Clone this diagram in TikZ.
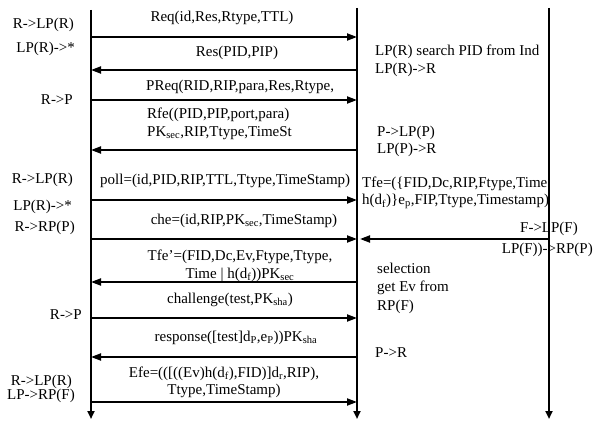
\documentclass[tikz,border=0pt]{standalone}
\usepackage{fontspec}
\setmainfont{Liberation Serif}
\usetikzlibrary{arrows.meta}
\begin{document}
\begin{tikzpicture}[x=1pt,y=-1pt,
  life/.style={line width=2.4pt,-{Triangle[length=8pt,width=7pt]}},
  msg/.style={line width=2pt,-{Triangle[length=10pt,width=7pt]}},
  txt/.style={inner sep=0pt,font=\fontsize{15}{17.5}\selectfont},
  lbl/.style={txt,anchor=east},
  note/.style={txt,anchor=west,align=left}]
\useasboundingbox (0,0) rectangle (594,422);
% lifelines
\coordinate (Ltop) at (91,10);  \coordinate (Lbot) at (91,419);
\coordinate (Mtop) at (357,8);  \coordinate (Mbot) at (357,419);
\coordinate (Rtop) at (549,8);  \coordinate (Rbot) at (549,419);
\draw[life] (Ltop) -- (Lbot);
\draw[life] (Mtop) -- (Mbot);
\draw[life] (Rtop) -- (Rbot);
% rows
\coordinate (y1) at (0,37);
\coordinate (y2) at (0,70);
\coordinate (y3) at (0,100);
\coordinate (y4) at (0,150);
\coordinate (y5) at (0,200);
\coordinate (y6) at (0,239);
\coordinate (y7) at (0,282);
\coordinate (y8) at (0,318);
\coordinate (y9) at (0,357);
\coordinate (y10) at (0,402);
% messages
\draw[msg] (Ltop |- y1) -- (Mtop |- y1);
\draw[msg] (Mtop |- y2) -- (Ltop |- y2);
\draw[msg] (Ltop |- y3) -- (Mtop |- y3);
\draw[msg] (Mtop |- y4) -- (Ltop |- y4);
\draw[msg] (Ltop |- y5) -- (Mtop |- y5);
\draw[msg] (Ltop |- y6) -- (Mtop |- y6);
\draw[msg,shorten >=3pt] (Rtop |- y6) -- (Mtop |- y6);
\draw[msg] (Mtop |- y7) -- (Ltop |- y7);
\draw[msg] (Ltop |- y8) -- (Mtop |- y8);
\draw[msg] (Mtop |- y9) -- (Ltop |- y9);
\draw[msg] (Ltop |- y10) -- (Mtop |- y10);
% message texts
\node[txt] (m1) at (222,18) {Req(id,Res,Rtype,TTL)};
\node[txt] (m2) at (237,53) {Res(PID,PIP)};
\node[txt,anchor=west] (m3) at (146,87) {PReq(RID,RIP,para,Res,Rtype,};
\node[note] (m4) at (147,124) {Rfe((PID,PIP,port,para)\\PK\textsubscript{sec},RIP,Ttype,TimeSt};
\node[txt,anchor=west] (m5) at (100,181) {poll=(id,PID,RIP,TTL,Ttype,TimeStamp)};
\node[txt] (m6) at (244,221) {che=(id,RIP,PK\textsubscript{sec},TimeStamp)};
\node[txt,align=center] (m7) at (240,266) {Tfe'=(FID,Dc,Ev,Ftype,Ttype,\\Time | h(d\textsubscript{f}))PK\textsubscript{sec}};
\node[txt] (m8) at (230,300) {challenge(test,PK\textsubscript{sha})};
\node[txt] (m9) at (236,338) {response([test]d\textsubscript{P},e\textsubscript{P}))PK\textsubscript{sha}};
\node[txt,align=center] (m10) at (224,382.5) {Efe=(([((Ev)h(d\textsubscript{f}),FID)]d\textsubscript{r},RIP),\\Ttype,TimeStamp)};
% left labels
\node[lbl] (a1) at (74,25) {R->LP(R)};
\node[lbl] (a2) at (75,49) {LP(R)->*};
\node[lbl] (a3) at (73,100) {R->P};
\node[lbl] (a4) at (73,180) {R->LP(R)};
\node[lbl] (a5) at (72,207) {LP(R)->*};
\node[lbl] (a6) at (75,228) {R->RP(P)};
\node[lbl] (a7) at (82,315) {R->P};
\node[lbl] (a8) at (72,382) {R->LP(R)};
\node[lbl] (a9) at (75,396) {LP->RP(F)};
% middle notes
\node[note] (b1) at (375,61) {LP(R) search PID from Ind\\LP(R)->R};
\node[note] (b2) at (377,141.5) {P->LP(P)\\LP(P)->R};
\node[note] (b3) at (362,193) {Tfe=(\{FID,Dc,RIP,Ftype,Time\\h(d\textsubscript{f})\}e\textsubscript{p},FIP,Ttype,Timestamp)};
\node[note,font=\fontsize{15}{18.5}\selectfont] (b4) at (377,288) {selection\\get Ev from\\RP(F)};
\node[note] (b5) at (375,353) {P->R};
% right labels
\node[lbl] (c1) at (578,229) {F->LP(F)};
\node[lbl] (c2) at (593,250) {LP(F))->RP(P)};
\end{tikzpicture}
\end{document}
